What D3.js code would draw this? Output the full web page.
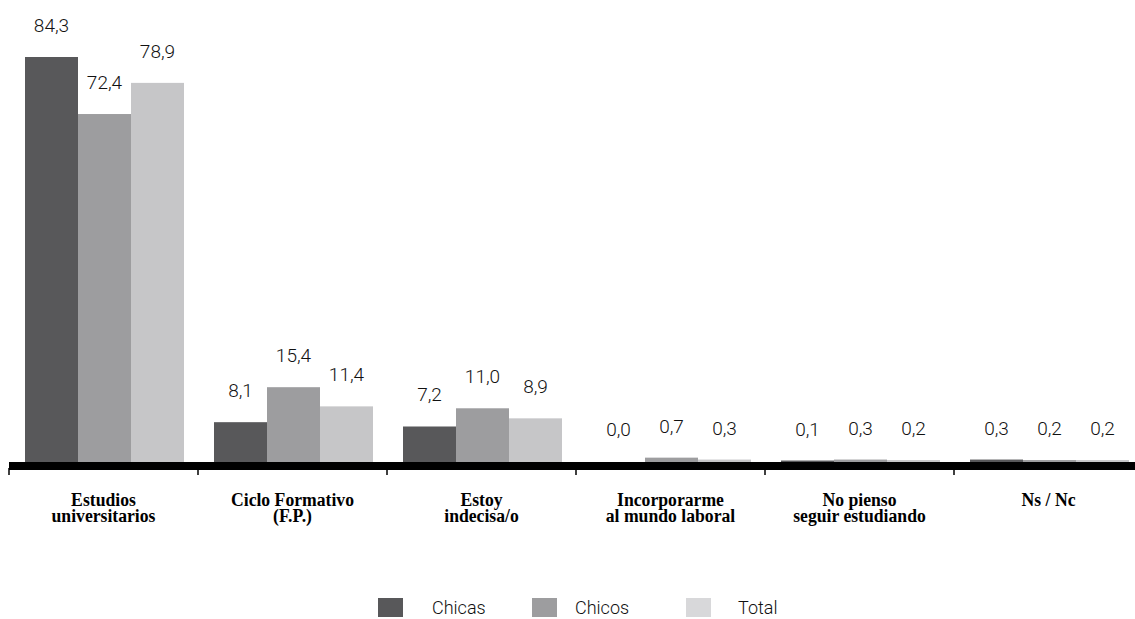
<!DOCTYPE html>
<html>
<head>
<meta charset="utf-8">
<script src="https://cdn.jsdelivr.net/npm/d3@7"></script>
<style>
  html, body { margin: 0; padding: 0; background: #fff; }
  svg { display: block; }
</style>
</head>
<body>
<svg id="chart" width="1135" height="619"></svg>
<script>
const categories = [
  ["Estudios", "universitarios"],
  ["Ciclo Formativo", "(F.P.)"],
  ["Estoy", "indecisa/o"],
  ["Incorporarme", "al mundo laboral"],
  ["No pienso", "seguir estudiando"],
  ["Ns / Nc"]
];
const series = ["Chicas", "Chicos", "Total"];
const chicas = [84.3, 8.1, 7.2, 0.0, 0.1, 0.3];
const chicos = [72.4, 15.4, 11.0, 0.7, 0.3, 0.2];
const total  = [78.9, 11.4, 8.9, 0.3, 0.2, 0.2];
const seriesValues = [chicas, chicos, total];

const colors = ["#58585a", "#9d9d9f", "#c6c6c8"];
const legendColors = ["#58585a", "#9d9d9f", "#d8d8da"];

const svg = d3.select("#chart");
const catIdx = categories.map((d, i) => i);

const baseY = 462;
const x0 = d3.scaleBand().domain(catIdx).range([9, 9 + 6 * 189]).padding(0);
const x1 = d3.scaleBand().domain(series).range([16, 175]).padding(0);
const y = d3.scaleLinear().domain([0, d3.max(seriesValues.flat())]).range([baseY, 58]);

const fmt = v => v.toFixed(1).replace(".", ",");

// bars
const groups = svg.append("g").selectAll("g")
  .data(catIdx).join("g")
  .attr("transform", i => `translate(${x0(i)},0)`);

groups.selectAll("rect")
  .data(i => series.map((s, k) => ({ s, k, v: seriesValues[k][i] })))
  .join("rect")
  .attr("x", d => x1(d.s))
  .attr("width", x1.bandwidth())
  .attr("y", d => y(d.v) - (d.v > 0 ? 1 : 0))
  .attr("height", d => baseY + 4 - y(d.v) + (d.v > 0 ? 1 : 0))
  .attr("fill", d => colors[d.k]);

groups.selectAll("text.val")
  .data(i => series.map((s, k) => ({ s, k, v: seriesValues[k][i] })))
  .join("text")
  .attr("class", "val")
  .attr("x", d => x1(d.s) + x1.bandwidth() / 2)
  .attr("y", d => y(d.v) - 26)
  .attr("text-anchor", "middle")
  .style("font-family", "Roboto, 'Liberation Sans Narrow', sans-serif")
  .style("font-weight", 300)
  .style("font-size", "19px")
  .attr("fill", "#111")
  .text(d => fmt(d.v));

// axis
svg.append("rect")
  .attr("x", x0.range()[0])
  .attr("y", baseY)
  .attr("width", 1135 - x0.range()[0])
  .attr("height", 8)
  .attr("fill", "#000");

svg.append("g").selectAll("line")
  .data(catIdx.concat([categories.length]))
  .join("line")
  .attr("x1", i => x0.range()[0] + i * x0.step())
  .attr("x2", i => x0.range()[0] + i * x0.step())
  .attr("y1", baseY + 6)
  .attr("y2", baseY + 13)
  .attr("stroke", "#000")
  .attr("stroke-width", 1.5);

// category labels
const catLabels = svg.append("g").selectAll("text")
  .data(catIdx).join("text")
  .attr("transform", i => `translate(${x0(i) + x0.bandwidth() / 2},0) scale(0.93,1)`)
  .attr("text-anchor", "middle")
  .style("font-family", "'Liberation Serif', 'Times New Roman', serif")
  .style("font-weight", "bold")
  .style("font-size", "19px")
  .attr("fill", "#000");

catLabels.selectAll("tspan")
  .data(i => categories[i])
  .join("tspan")
  .attr("x", 0)
  .attr("y", (d, j) => 506 + j * 16)
  .text(d => d);

// legend
const legend = svg.append("g").selectAll("g")
  .data(series).join("g")
  .attr("transform", (d, k) => `translate(${378 + k * 154},0)`);

legend.append("rect")
  .attr("x", 0).attr("y", 598)
  .attr("width", 25).attr("height", 19)
  .attr("fill", (d, k) => legendColors[k]);

legend.append("text")
  .attr("x", (d, k) => [54, 43, 52][k])
  .attr("y", 614)
  .style("font-family", "Roboto, 'Liberation Sans Narrow', sans-serif")
  .style("font-weight", 300)
  .style("font-size", "18px")
  .attr("fill", "#111")
  .text(d => d);
</script>
</body>
</html>
